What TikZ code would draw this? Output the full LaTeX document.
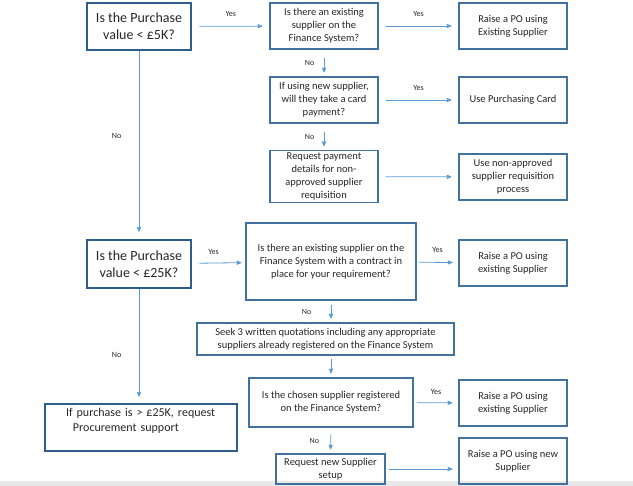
\documentclass[tikz,border=0pt]{standalone}
\usepackage{fontspec}
\setmainfont{Carlito}
\usetikzlibrary{arrows}
\definecolor{boxblue}{HTML}{41719C}
\definecolor{darkblue}{HTML}{2F5E8C}
\definecolor{arrowblue}{HTML}{5B9BD5}

\begin{document}
\begin{tikzpicture}[x=1pt,y=-1pt,->,>=stealth',auto,
  plain node/.style={draw=boxblue,line width=1.1pt,align=center,inner sep=2pt,
    minimum width=108pt,minimum height=46pt,
    font=\fontsize{10.5}{13}\selectfont,text=black!85},
  main node/.style={draw=darkblue,line width=2.6pt,align=center,inner sep=2pt,
    minimum width=104pt,minimum height=47pt,
    font=\fontsize{14}{17}\selectfont,text=black!85},
  link/.style={draw=arrowblue,line width=0.8pt,shorten <=7pt,shorten >=7pt},
  down/.style={draw=arrowblue,line width=0.8pt,shorten <=8pt,shorten >=4pt},
  every node/.append style={text=black!85}]

  \useasboundingbox (0,0) rectangle (633,486);
  \fill[black!9] (0,481) rectangle (633,486);

  % first question and its branch
  \node[main node] (q1) at (139,26.5) {Is the Purchase\\value < £5K?};
  \node[plain node] (b1) at (324,26) {Is there an existing\\supplier on the\\Finance System?};
  \node[plain node] (r1) at (513,26) {Raise a PO using\\Existing Supplier};
  \node[plain node] (b2) at (324,100) {If using new supplier,\\will they take a card\\payment?};
  \node[plain node] (r2) at (513,100) {Use Purchasing Card};
  \node[plain node,minimum height=51pt] (b3) at (324,176.5) {Request payment\\details for non-\\approved supplier\\requisition};
  \node[plain node] (r3) at (513,177) {Use non-approved\\supplier requisition\\process};

  % second question and its branch
  \node[main node,minimum height=48pt] (q2) at (139,264) {Is the Purchase\\value < £25K?};
  \node[plain node,minimum width=170pt,minimum height=77pt] (b4) at (331,261.5)
    {Is there an existing supplier on the\\Finance System with a contract in\\place for your requirement?};
  \node[plain node] (r4) at (513,263) {Raise a PO using\\existing Supplier};
  \node[plain node,minimum width=257pt,minimum height=32pt] (b5) at (325.5,339)
    {Seek 3 written quotations including any appropriate\\suppliers already registered on the Finance System};
  \node[plain node,minimum width=164pt,minimum height=49pt] (b6) at (331,402.5)
    {Is the chosen supplier registered\\on the Finance System?};
  \node[plain node] (r5) at (513,403) {Raise a PO using\\existing Supplier};
  \node[plain node,minimum width=109pt,minimum height=30pt] (b7) at (330.5,469) {Request new Supplier\\setup};
  \node[plain node] (r6) at (513,461) {Raise a PO using new\\Supplier};

  % last question
  \node[main node,minimum width=192pt,text width=170pt,align=left,font=\fontsize{12}{15}\selectfont]
    (q3) at (141,427.5) {\hspace*{10pt}If purchase is > £25K, request\\ \hspace*{17pt}Procurement support\\[-5pt]\strut};

  \path[every node/.style={font=\fontsize{8}{9}\selectfont,text=black!85}]
    (q1) edge[link] node[above=6pt] {Yes} (b1)
    (b1) edge[link] node[above=6pt] {Yes} (r1)
    (b2) edge[link] node[above=6pt] {Yes} (r2)
    (b3) edge[link] node {} (r3)
    (b1) edge[down] node[swap,left=6pt] {No} (b2)
    (b2) edge[down] node[swap,left=6pt] {No} (b3)
    (q1) edge[link,shorten <=0pt] node[swap,pos=0.45,left=14pt] {No} (q2)
    (q2) edge[link,shorten >=4pt] node[pos=0.4,above=5pt] {Yes} (b4)
    (b4) edge[link,shorten <=2pt,shorten >=6pt] node[above=6pt] {Yes} (r4)
    (b4.south) edge[down,shorten <=4pt] node[swap,left=16pt] {No} (b4.south |- b5.north)
    (b5.south -| b6) edge[down,shorten <=3pt] node {} (b6.north)
    (b6) edge[link,shorten <=3pt,shorten >=6pt] node[above=4pt] {Yes} (r5)
    (b6) edge[down,shorten <=7pt] node[swap,left=8pt] {No} (b7)
    (b7) edge[link,shorten <=3pt,shorten >=6pt] node {} (b7 -| r6.west)
    (q2.south) edge[link,shorten <=0pt,shorten >=6pt] node[swap,pos=0.58,left=14pt] {No} (q2.south |- q3.north);

\end{tikzpicture}
\end{document}
